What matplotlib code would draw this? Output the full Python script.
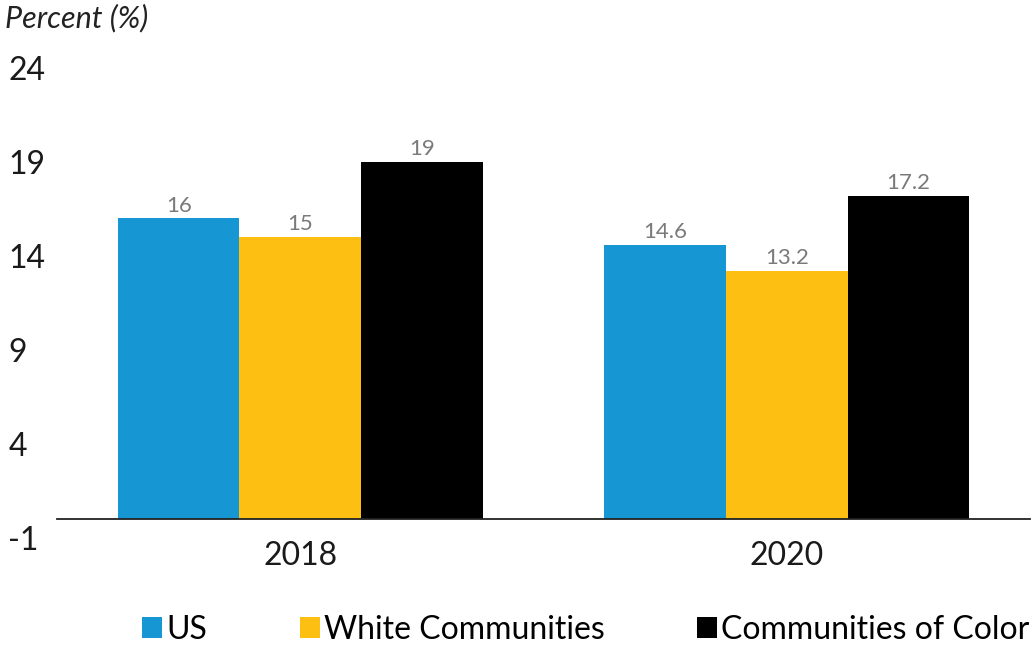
import matplotlib.pyplot as plt
import numpy as np
from matplotlib.patches import Patch

plt.rcParams['font.family'] = ['Lato', 'DejaVu Sans']

# data
years = ['2018', '2020']
series = ['US', 'White Communities', 'Communities of Color']
us = [16, 14.6]
white = [15, 13.2]
color = [19, 17.2]
value_labels = [['16', '14.6'], ['15', '13.2'], ['19', '17.2']]
yticks = [-1, 4, 9, 14, 19, 24]

colors = ['#1696d2', '#fdbf11', '#000000']

fig = plt.figure(figsize=(10.35, 6.45), dpi=100)
ax = fig.add_axes([0.0551, 0.1659, 0.9401, 0.7287])

x = np.arange(len(years))
w = 0.25
for i, (vals, c) in enumerate(zip([us, white, color], colors)):
    pos = x + (i - 1) * w
    ax.bar(pos, vals, width=w, color=c, edgecolor='none')
    for p, v, lab in zip(pos, vals, value_labels[i]):
        ax.annotate(lab, (p, v), xytext=(0, 2), textcoords='offset points',
                    ha='center', va='bottom', fontsize=16, color='#7a7a7a')

# spine first, it resets the ticks
for s in ['top', 'right', 'left']:
    ax.spines[s].set_visible(False)
ax.spines['bottom'].set_position(('data', 0))
ax.spines['bottom'].set_linewidth(1.3)
ax.spines['bottom'].set_color('#222222')

ax.set_xlim(-0.5, 1.5)
ax.set_ylim(-1, 24)
ax.set_yticks(yticks)
ax.set_yticklabels([str(t) for t in yticks], ha='left')
ax.tick_params(axis='y', length=0, pad=35, labelsize=23, labelcolor='#1a1a1a')
ax.set_xticks(x)
ax.set_xticklabels(years)
ax.tick_params(axis='x', length=0, pad=16, labelsize=23, labelcolor='#1a1a1a')

fig.text(0.005, 0.972, 'Percent (%)', fontsize=22, style='italic',
         ha='left', va='center', color='#222222')

handles = [Patch(facecolor=c, edgecolor='none') for c in colors]
fig.legend(handles, series, loc='center', bbox_to_anchor=(0.566, 0.023),
           ncol=3, frameon=False, fontsize=23, handlelength=0.63, handleheight=0.63,
           handletextpad=0.12, columnspacing=2.9)

fig.savefig('out.png', dpi=100)
